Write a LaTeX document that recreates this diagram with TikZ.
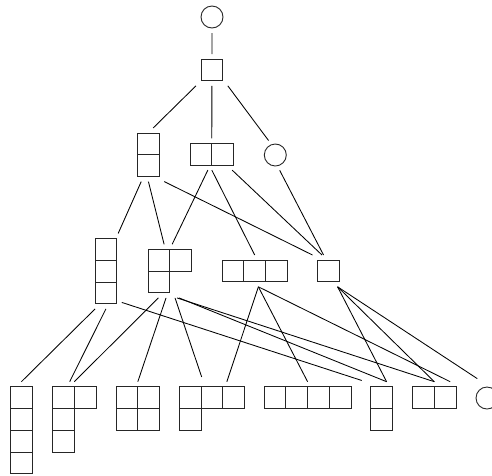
\documentclass[tikz,border=0pt]{standalone}
\usepackage{tikz}

\tikzset{
  cell/.style={draw=black!85, line width=0.9pt},
  yd/.style={inner sep=0pt, outer sep=5pt},
  ring/.style={circle, draw=black!85, line width=0.9pt, minimum size=22pt, inner sep=0pt, outer sep=5pt},
  link/.style={draw=black, line width=0.85pt}
}
\newcommand{\cs}{21.8}
% \ydiag{name}{left}{top}{cols}{rows}{cells as col/row}
\newcommand{\ydiag}[6]{%
  \foreach \cx/\cy in {#6} { \draw[cell]({#2+\cx*\cs},{#3+\cy*\cs}) rectangle ++(\cs,\cs); }
  \pgfmathsetmacro{\yw}{#4*\cs}\pgfmathsetmacro{\yh}{#5*\cs}
  \node[yd, minimum width=\yw pt, minimum height=\yh pt] (#1) at ({#2+#4*\cs/2},{#3+#5*\cs/2}) {};
}

\begin{document}
\begin{tikzpicture}[x=1pt,y=-1pt]
  \clip (0,0) rectangle (492,475);
  % empty shapes
  \node[ring] (c0) at (212,17) {};
  \node[ring] (c2) at (275.3,155) {};
  \node[ring] (c4) at (487,398) {};
  % level 1 and 2
  \ydiag{s1}{201}{59}{1}{1}{0/0}
  \ydiag{v2}{137.5}{133}{1}{2}{0/0,0/1}
  \ydiag{h2}{190}{143.3}{2}{1}{0/0,1/0}
  % level 3
  \ydiag{v3}{95}{238.5}{1}{3}{0/0,0/1,0/2}
  \ydiag{L}{148}{249.3}{2}{2}{0/0,1/0,0/1}
  \ydiag{h3}{222}{260}{3}{1}{0/0,1/0,2/0}
  \ydiag{sq}{317.5}{260}{1}{1}{0/0}
  % level 4
  \ydiag{v4}{10.5}{386.7}{1}{4}{0/0,0/1,0/2,0/3}
  \ydiag{p}{52.5}{386.7}{2}{3}{0/0,1/0,0/1,0/2}
  \ydiag{g}{116}{386.7}{2}{2}{0/0,1/0,0/1,1/1}
  \ydiag{r}{179.3}{386.7}{3}{2}{0/0,1/0,2/0,0/1}
  \ydiag{u}{264}{386.7}{4}{1}{0/0,1/0,2/0,3/0}
  \ydiag{q}{370.5}{386.7}{1}{2}{0/0,0/1}
  \ydiag{hh}{412.5}{386.7}{2}{1}{0/0,1/0}

  \draw[link] (c0) -- (s1);
  \draw[link] (s1.south west) -- (v2.80);
  \draw[link] (s1.south) -- (h2.north);
  \draw[link] (s1.south east) -- (c2.115);

  \draw[link] (v2.-105) -- (v3.72);
  \draw[link] (v2.south) -- (L.102);
  \draw[link] (v2.south east) -- (sq.north west);
  \draw[link] (h2.-104) -- (L.85);
  \draw[link] (h2.south) -- (h3.north);
  \draw[link] (h2.-38) -- (sq.112);
  \draw[link] (c2.-74) -- (sq.107);

  \draw[link] (v3.-106) -- (v4.north);
  \draw[link] (v3.south) -- (p.97);
  \draw[link, shorten >=4pt] (v3.-63) -- (q.north west);
  \draw[link] (L.-113) -- (p.north);
  \draw[link] (L.-98) -- (g.north);
  \draw[link, shorten >=5pt] (L.-79) -- (r.108);
  \draw[link] (L.-71) -- (q.79);
  \draw[link] (L.-75) -- (hh.north);
  \draw[link] (h3.-77) -- (r.61);
  \draw[link] (h3.-77) -- (u.north);
  \draw[link] (h3.-77) -- (hh.45);
  \draw[link] (sq.-60) -- (q.79);
  \draw[link] (sq.-60) -- (hh.north);
  \draw[link, shorten >=7pt] (sq.-60) -- (c4.104);
\end{tikzpicture}
\end{document}
